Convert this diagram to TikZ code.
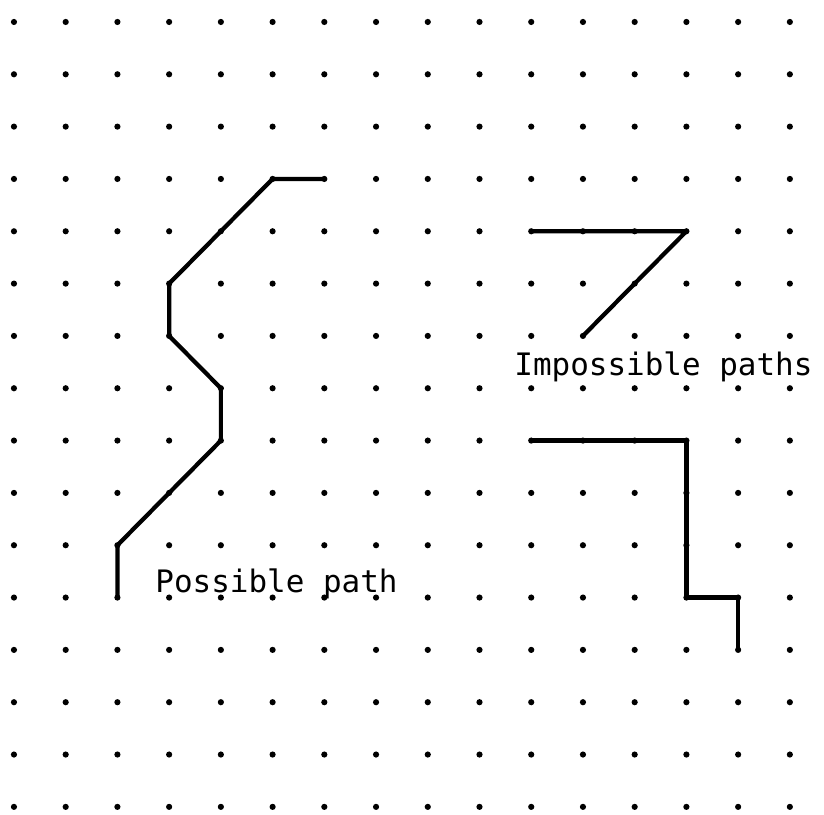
\documentclass[tikz,border=0pt]{standalone}
\usepackage{fontspec}
\newfontfamily\dotfont{DejaVu Sans Mono}

\begin{document}
\begin{tikzpicture}[x=1.293cm,y=1.308cm,font=\dotfont\fontsize{22}{26}\selectfont,
    route/.style={line width=3pt, line join=round, line cap=round},
    label/.style={anchor=base west, inner sep=0pt}]
    \useasboundingbox (-0.27,-0.153) rectangle (15.66,15.42);
    \foreach \i in {0,...,15}
        \foreach \j in {0,...,15} {
            \coordinate (d-\i-\j) at (\i,\j);
            \fill (d-\i-\j) circle (2.2pt);
        }
    \draw[route] (d-6-12) -- (d-5-12) -- (d-3-10) -- (d-3-9) -- (d-4-8) -- (d-4-7) -- (d-2-5) -- (d-2-4);
    \draw[route] (d-10-11) -- (d-13-11) -- (d-11-9);
    \draw[route] (d-10-7) -- (d-13-7) -- (d-13-4) -- (d-14-4) -- (d-14-3);
    \node[label] (possible) at (2.73,4.09) {Possible path};
    \node[label] (impossible) at (9.67,8.25) {Impossible paths};
\end{tikzpicture}
\end{document}
